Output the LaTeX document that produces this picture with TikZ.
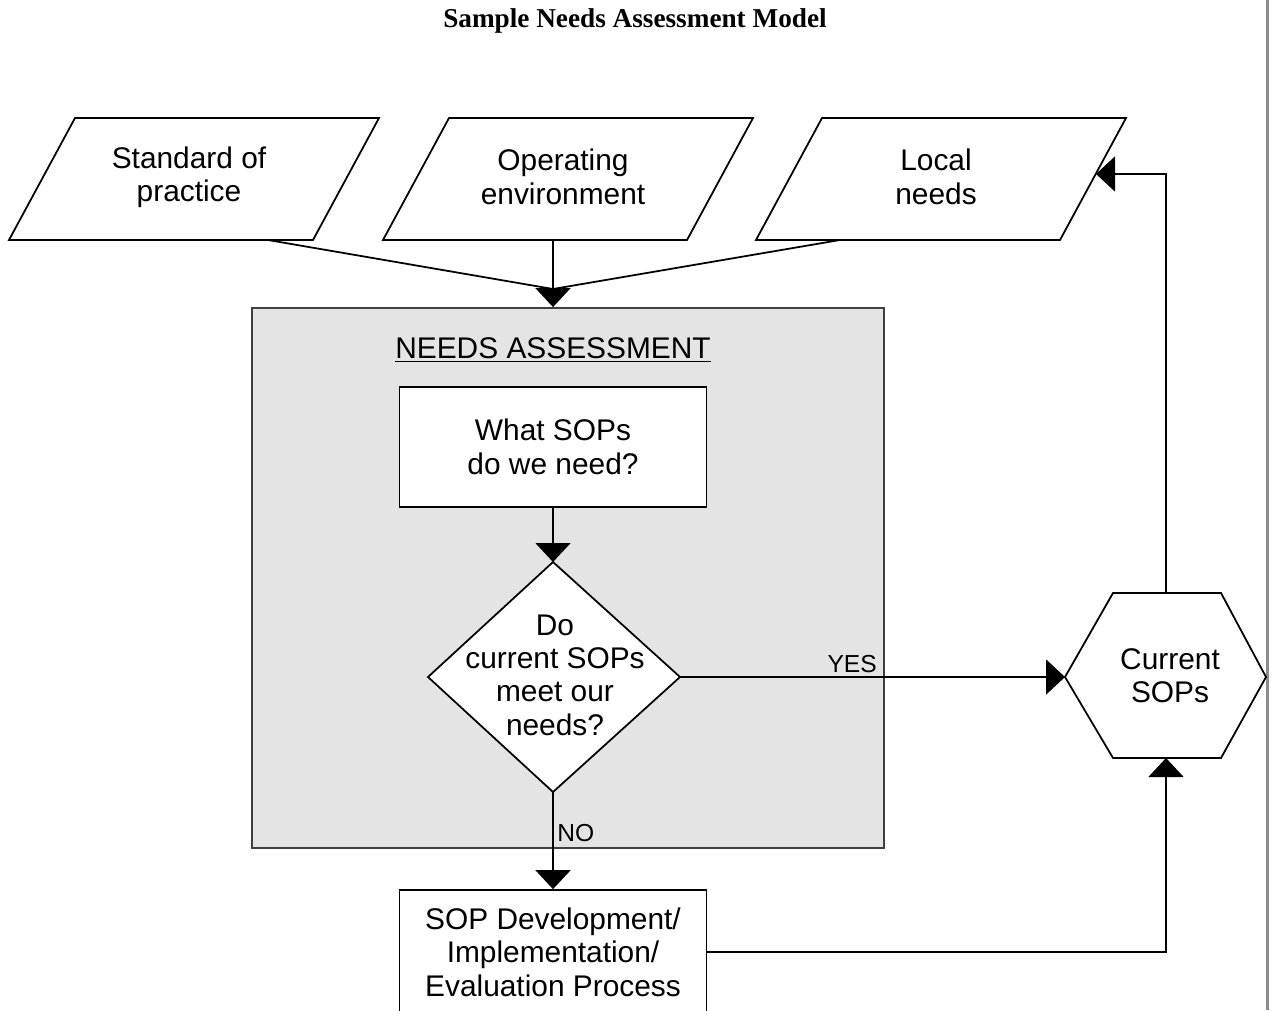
\documentclass[tikz,border=0pt]{standalone}
\usepackage{fontspec}
\setmainfont{Liberation Sans}
\newfontfamily\titlefont{Liberation Serif}
\usetikzlibrary{arrows.meta}
\definecolor{panelfill}{gray}{0.895}
\definecolor{panelline}{gray}{0.25}
\definecolor{pageedge}{gray}{0.55}

\begin{document}
\begin{tikzpicture}[
  x=0.02cm,y=-0.02cm,
  font=\fontsize{17}{19}\selectfont,
  wire/.style={line width=1pt,black},
  flow/.style={line width=1pt,black,-{Triangle[length=0.38cm,width=0.70cm]}},
  shapeline/.style={line width=1pt,black,fill=white},
  box/.style={draw,line width=1pt,fill=white,align=center,inner sep=0pt},
  panelbox/.style={draw=panelline,line width=1.1pt,fill=panelfill,inner sep=0pt},
  label/.style={font=\fontsize{14}{16}\selectfont,inner sep=2pt},
]
\clip (0,0) rectangle (1273,1010);

% ---- title ----
\node[font=\titlefont\bfseries\fontsize{15.5}{18}\selectfont] (title) at (635,21)
  {Sample Needs Assessment Model};

% ---- page edge ----
\draw[pageedge,line width=1.7pt] (1267,0) -- (1267,1010);

% ---- three input parallelograms ----
\foreach \x/\n/\t in {9/std/{Standard of\\practice},
                      383/env/{Operating\\environment},
                      756/loc/{Local\\needs}}{
  \draw[shapeline] (\x,240) -- (\x+66,118) -- (\x+370,118) -- (\x+304,240) -- cycle;
  \node[align=center] (\n) at (\x+180,177) {\t};
}
\coordinate (std-b) at (268,240);
\coordinate (env-b) at (553,240);
\coordinate (loc-b) at (840,240);
\coordinate (loc-e) at (1096,174);
\coordinate (merge) at (553,289);

% ---- needs assessment panel ----
\node[panelbox,minimum width=12.64cm,minimum height=10.8cm] (na) at (568,578) {};
\node (na-title) at (553,350) {\underline{NEEDS ASSESSMENT}};

\node[box,minimum width=6.14cm,minimum height=2.4cm] (ask) at (553,447)
  {What SOPs\\do we need?};

% decision diamond
\coordinate (dec-n) at (553,562);
\coordinate (dec-e) at (680,677);
\coordinate (dec-s) at (553,792);
\draw[shapeline] (dec-n) -- (dec-e) -- (dec-s) -- (428,677) -- cycle;
\node[align=center] (dec) at (555,675) {Do\\current SOPs\\meet our\\needs?};

% ---- development box (runs off the page) ----
\node[box,minimum width=6.14cm,minimum height=2.48cm] (dev) at (553,952)
  {SOP Development/\\Implementation/\\Evaluation Process};

% ---- current SOPs hexagon ----
\coordinate (hex-w) at (1065,677);
\coordinate (hex-n) at (1166,593);
\coordinate (hex-s) at (1166,758);
\draw[shapeline] (hex-w) -- (1113,593) -- (1221,593) -- (1266,677)
  -- (1221,758) -- (1113,758) -- cycle;
\node[align=center] (cur) at (1170,676) {Current\\SOPs};

% ---- connectors ----
\draw[wire] (std-b) -- (merge);
\draw[wire] (loc-b) -- (merge);
\draw[flow] (env-b) -- (env-b |- na.north);
\draw[flow] (ask.south) -- (dec-n);
\draw[flow] (dec-e) -- node[label,above,pos=0.447] {YES} (hex-w);
\draw[flow] (dec-s) -- node[label,right,pos=0.42] {NO} (dev.north);
\draw[flow] (hex-n) |- (loc-e);
\draw[flow] (dev.east) -| (hex-s);

\end{tikzpicture}
\end{document}
